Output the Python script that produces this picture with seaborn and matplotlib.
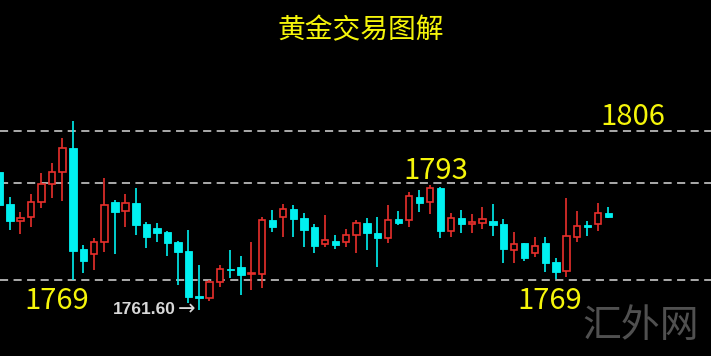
import numpy as np
import pandas as pd
import matplotlib
matplotlib.use("Agg")
import matplotlib.pyplot as plt
import seaborn as sns

# ---- data ----
opens = [1795.8, 1787.9, 1783.7, 1784.7, 1788.4, 1792.8, 1795.8, 1801.8, 1776.7, 1775.5,
         1778.5, 1788.4, 1786.1, 1788.1, 1782.9, 1781.9, 1780.9, 1778.5, 1776.2, 1765.1,
         1764.6, 1768.5, 1771.8, 1772.3, 1770.5, 1770.5, 1783.9, 1784.7, 1786.6, 1784.4,
         1782.2, 1778.0, 1778.7, 1778.5, 1780.2, 1783.2, 1780.7, 1779.4, 1784.2, 1783.9,
         1789.6, 1788.4, 1791.9, 1781.2, 1784.4, 1782.9, 1783.2, 1783.7, 1782.9, 1776.5,
         1778.2, 1775.7, 1778.2, 1773.5, 1771.3, 1779.7, 1782.7, 1782.9, 1785.7]
highs = [1796.8, 1789.6, 1785.9, 1790.4, 1795.6, 1798.1, 1804.3, 1808.5, 1777.7, 1779.4,
         1794.3, 1788.9, 1790.4, 1791.9, 1783.4, 1783.2, 1781.2, 1778.7, 1781.4, 1772.7,
         1769.0, 1772.7, 1776.5, 1775.0, 1778.5, 1784.7, 1786.4, 1787.9, 1787.6, 1785.7,
         1782.9, 1785.2, 1780.2, 1781.7, 1783.9, 1784.4, 1784.7, 1787.6, 1786.1, 1790.9,
         1791.4, 1792.6, 1792.1, 1785.7, 1786.4, 1785.4, 1787.1, 1787.9, 1784.2, 1780.9,
         1778.2, 1779.7, 1779.7, 1774.5, 1789.4, 1786.1, 1783.7, 1788.1, 1787.1]
lows = [1784.4, 1781.4, 1780.4, 1782.2, 1786.9, 1789.4, 1788.6, 1769.0, 1770.8, 1771.5,
        1776.0, 1775.5, 1782.2, 1780.2, 1777.0, 1778.5, 1775.0, 1767.8, 1763.3, 1761.6,
        1763.8, 1767.3, 1769.5, 1765.3, 1766.6, 1767.0, 1780.9, 1779.7, 1779.7, 1777.2,
        1775.7, 1777.2, 1776.7, 1777.2, 1775.7, 1776.5, 1772.3, 1778.2, 1782.7, 1782.2,
        1785.9, 1785.4, 1779.4, 1779.7, 1780.7, 1780.7, 1781.7, 1779.9, 1773.2, 1773.2,
        1773.7, 1774.7, 1771.0, 1769.3, 1769.8, 1778.5, 1779.9, 1781.2, 1784.4]
closes = [1787.6, 1783.7, 1784.4, 1788.4, 1792.8, 1795.8, 1801.8, 1776.2, 1773.7, 1778.5,
          1787.6, 1785.9, 1788.1, 1782.7, 1779.7, 1780.7, 1778.2, 1776.0, 1764.8, 1764.6,
          1768.5, 1771.8, 1771.5, 1770.3, 1770.8, 1783.9, 1782.2, 1786.6, 1784.2, 1781.4,
          1777.5, 1779.0, 1777.7, 1780.2, 1783.2, 1780.7, 1779.4, 1783.9, 1783.2, 1789.9,
          1788.1, 1791.9, 1781.2, 1784.4, 1782.9, 1783.4, 1784.2, 1782.7, 1776.7, 1778.0,
          1774.5, 1777.5, 1773.2, 1771.0, 1779.9, 1782.4, 1782.2, 1785.7, 1784.7]

level_values = [1806, 1793, 1769]
level_labels = ["1806", "1793", "1769", "1769"]
low_label = "1761.60"
title_text = "黄金交易图解"
watermark_text = "汇外网"

df = pd.DataFrame({"open": opens, "high": highs, "low": lows, "close": closes})
df["idx"] = np.arange(len(df))
df["up"] = df["close"] >= df["open"]

# ---- style ----
sns.set_theme(style="dark", rc={"axes.facecolor": "black", "figure.facecolor": "black"})
plt.rcParams["font.family"] = ["Noto Sans CJK SC", "DejaVu Sans"]

W, H = 711, 356
fig = plt.figure(figsize=(W / 100, H / 100), dpi=100)
fig.patch.set_facecolor("black")
ax = fig.add_axes([0, 0, 1, 1])
ax.set_facecolor("black")
ax.set_axis_off()

RED = "#e8302c"
CYAN = "#00f0f0"
YEL = "#f5f50a"

# wicks
colors = np.where(df["up"], RED, CYAN)
ax.vlines(df["idx"], df["low"], df["high"], colors=colors, linewidth=1.2, zorder=2)

# bodies
body_bottom = np.minimum(df["open"], df["close"])
body_h = np.maximum(np.abs(df["close"] - df["open"]), 0.3)
up = df["up"].values
ax.bar(df["idx"][up], body_h[up], bottom=body_bottom[up], width=0.62,
       facecolor="black", edgecolor=RED, linewidth=1.2, zorder=3)
ax.bar(df["idx"][~up], body_h[~up], bottom=body_bottom[~up], width=0.68,
       facecolor=CYAN, edgecolor=CYAN, linewidth=0.6, zorder=3)

# levels
for lv in level_values:
    ax.axhline(lv, color="#b8b8b8", linewidth=1.3, linestyle=(0, (4.5, 3)), zorder=1)

xmin = 0.048
ax.set_xlim(xmin, xmin + W / 10.5)
ax.set_ylim(1750.2, 1838.5)

def fx(px):
    return px / W

def fy(py):
    return 1 - py / H

fig.text(fx(361), fy(30), title_text, color=YEL, fontsize=20, ha="center", va="center")
fig.text(fx(633), fy(117), level_labels[0], color=YEL, fontsize=21, ha="center", va="center")
fig.text(fx(436), fy(171), level_labels[1], color=YEL, fontsize=21, ha="center", va="center")
fig.text(fx(57), fy(301), level_labels[2], color=YEL, fontsize=21, ha="center", va="center")
fig.text(fx(550), fy(301), level_labels[3], color=YEL, fontsize=21, ha="center", va="center")
fig.text(fx(113), fy(310), low_label, color="#d8d8d8", fontsize=12.5,
         fontweight="bold", family=["Liberation Sans", "DejaVu Sans"], ha="left", va="center")
fig.text(fx(178), fy(309), "\u2192", color="#d8d8d8", fontsize=15,
         family=["DejaVu Sans"], ha="left", va="center")
fig.text(fx(641), fy(326), watermark_text, color="#505050", fontsize=28,
         ha="center", va="center")

fig.savefig("out.png", dpi=100, facecolor="black")
